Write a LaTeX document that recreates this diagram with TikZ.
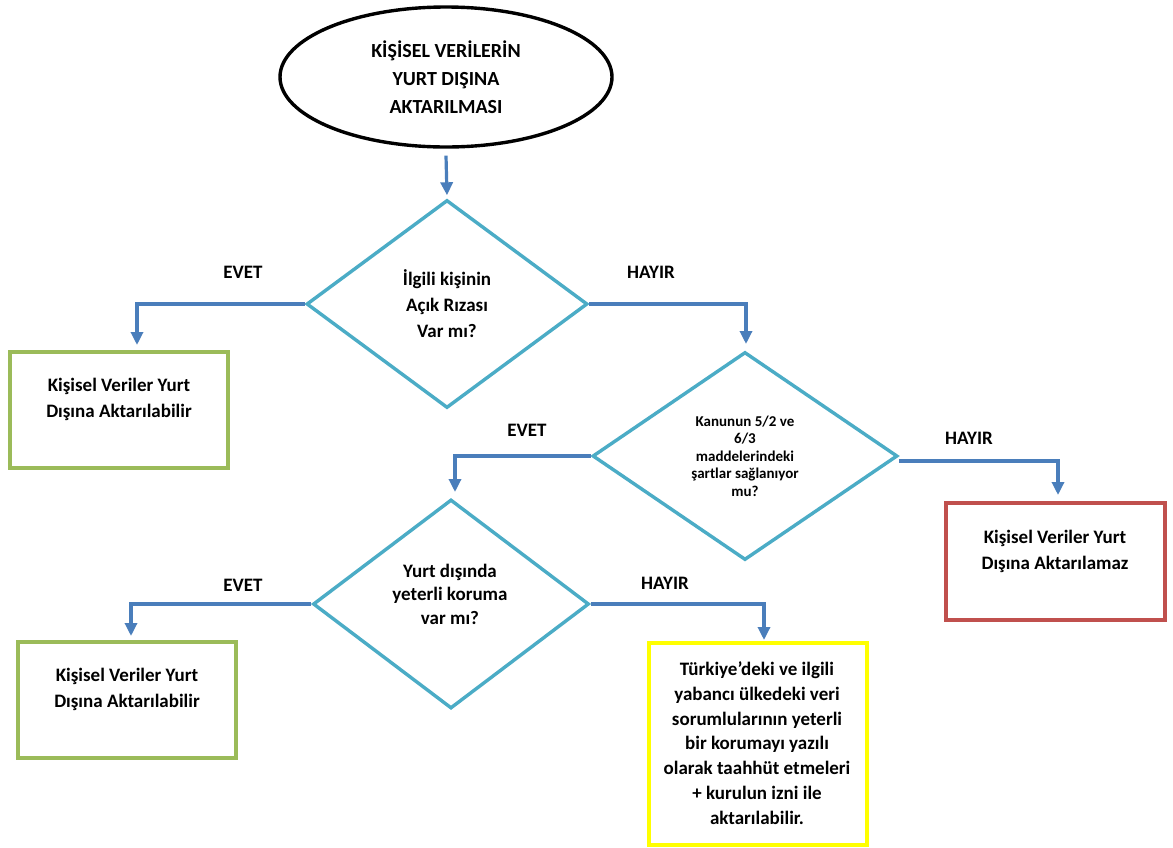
\documentclass[tikz,border=0pt]{standalone}
\usepackage{fontspec}
\setmainfont{Carlito}
\usetikzlibrary{arrows.meta,shapes.geometric}
\definecolor{arrblue}{HTML}{4A7EBB}
\definecolor{dcyan}{HTML}{4BACC6}
\definecolor{bgreen}{HTML}{9BBB59}
\definecolor{bred}{HTML}{C0504D}
\definecolor{byellow}{HTML}{FFFF00}
\begin{document}
\begin{tikzpicture}[x=1pt,y=-1pt,
  every node/.style={font=\bfseries\fontsize{19}{26}\selectfont, align=center},
  conn/.style={draw=arrblue, line width=3.2pt, -{Triangle[length=13pt,width=12pt]}},
  dec/.style={diamond, draw=dcyan, line width=3.4pt, inner sep=0pt},
  box/.style={rectangle, draw=#1, line width=3.4pt, inner sep=0pt},
  lbl/.style={inner sep=0pt},
  small/.style={font=\bfseries\fontsize{15}{17.5}\selectfont}
]
\useasboundingbox[fill=white] (0,0) rectangle (1173,847);

% start ellipse
\node[ellipse, draw=black, line width=3.4pt, minimum width=332pt, minimum height=140pt, inner sep=0pt,
      font=\bfseries\fontsize{20}{28}\selectfont] (ell) at (446,77)
  {KİŞİSEL VERİLERİN\\YURT DIŞINA\\AKTARILMASI};

% decisions
\node[dec, minimum width=281pt, minimum height=208pt] (d1) at (447,304)
  {İlgili kişinin\\Açık Rızası\\Var mı?};
\node[dec, minimum width=305pt, minimum height=208pt, small] (d2) at (745,456)
  {Kanunun 5/2 ve\\6/3\\maddelerindeki\\şartlar sağlanıyor\\mu?};
\node[dec, minimum width=276pt, minimum height=209pt] (d3) at (451,604) {};
\node[lbl, font=\bfseries\fontsize{19}{23.5}\selectfont] (t3) at (450,594)
  {Yurt dışında\\yeterli koruma\\var mı?};

% result boxes
\node[box=bgreen, minimum width=218pt, minimum height=116pt] (b1) at (119,410) {};
\node[lbl] (tb1) at (119,399) {Kişisel Veriler Yurt\\Dışına Aktarılabilir};

\node[box=bred, minimum width=219pt, minimum height=117pt] (b2) at (1055.5,561.5) {};
\node[lbl] (tb2) at (1055,551) {Kişisel Veriler Yurt\\Dışına Aktarılamaz};

\node[box=bgreen, minimum width=218pt, minimum height=116pt] (b3) at (127,700) {};
\node[lbl] (tb3) at (127,689) {Kişisel Veriler Yurt\\Dışına Aktarılabilir};

\node[box=byellow, minimum width=218pt, minimum height=202pt] (b4) at (758,744) {};
\node[lbl, font=\bfseries\fontsize{19}{24.8}\selectfont] (tb4) at (757,743)
  {Türkiye’deki ve ilgili\\yabancı ülkedeki veri\\sorumlularının yeterli\\bir korumayı yazılı\\olarak taahhüt etmeleri\\+ kurulun izni ile\\aktarılabilir.};

% branch labels
\node[lbl] (l1) at (243,272) {EVET};
\node[lbl] (l2) at (651,272) {HAYIR};
\node[lbl] (l3) at (527,430) {EVET};
\node[lbl] (l4) at (969,438) {HAYIR};
\node[lbl] (l5) at (243,585) {EVET};
\node[lbl] (l6) at (665,583) {HAYIR};

% arrow end points
\coordinate (c1) at (137,345);
\coordinate (c2) at (746,344);
\coordinate (c3) at (455,492);
\coordinate (c4) at (1058,495);
\coordinate (c5) at (131,636);
\coordinate (c6) at (764,640);

% connectors
\draw[conn] ([yshift=-7pt]ell.south) -- ([yshift=3pt]d1.north);
\draw[conn] (d1.west) -| (c1);
\draw[conn] (d1.east) -| (c2);
\draw[conn] (d2.west) -| (c3);
\draw[conn] ([yshift=-5pt]d2.east) -| (c4);
\draw[conn] (d3.west) -| (c5);
\draw[conn] (d3.east) -| (c6);
\end{tikzpicture}
\end{document}
